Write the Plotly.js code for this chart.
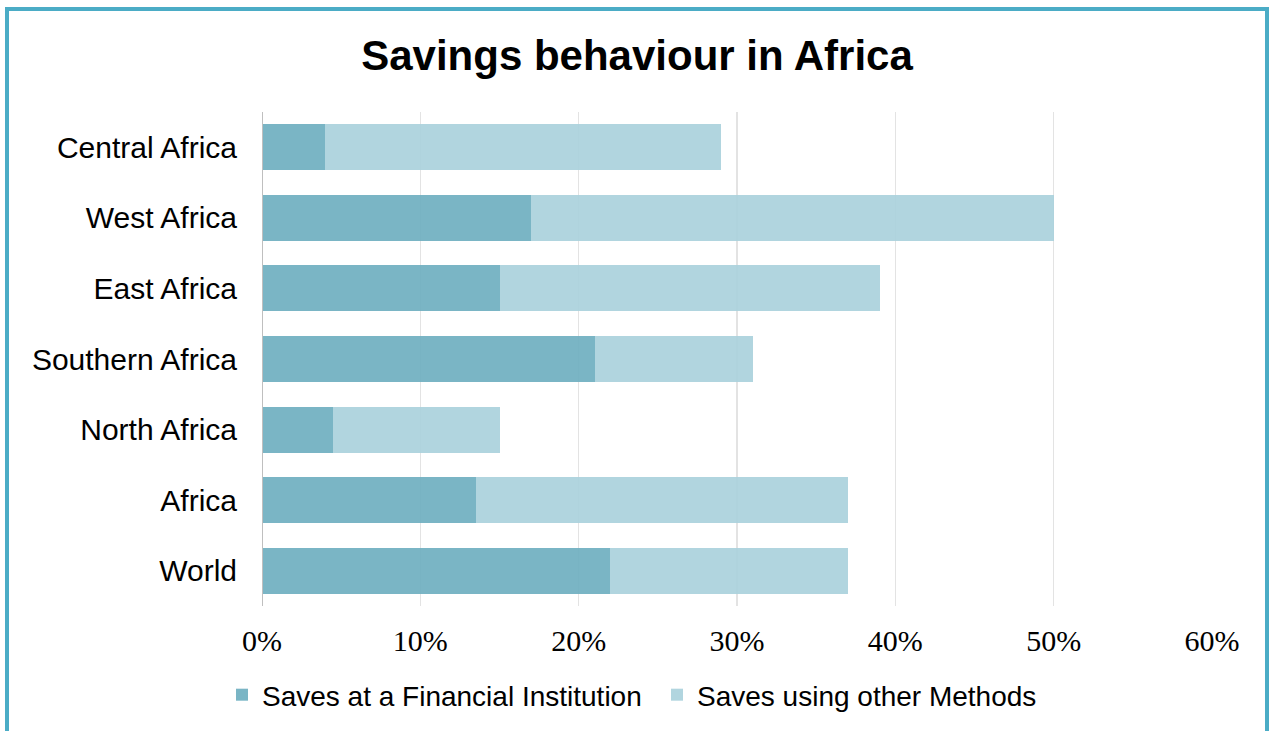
<!DOCTYPE html>
<html>
<head>
<meta charset="utf-8">
<script src="https://cdn.plot.ly/plotly-3.0.1.min.js"></script>
<style>
html,body{margin:0;padding:0;background:#fff;overflow:hidden;}
#chart{position:absolute;left:0;top:0;width:1269px;height:731px;}
#frame{position:absolute;left:5px;top:7px;width:1264px;height:760px;border:4px solid #4BACC6;box-sizing:border-box;pointer-events:none;}
</style>
</head>
<body>
<div id="chart"></div>
<div id="frame"></div>
<script>
const regions = ["Central Africa","West Africa","East Africa","Southern Africa","North Africa","Africa","World"];
const financialInstitution = [4, 17, 15, 21, 4.5, 13.5, 22];
const otherMethods = [25, 33, 24, 10, 10.5, 23.5, 15];
const seriesNames = ["Saves at a Financial Institution","Saves using other Methods"];
const xTicks = [0,10,20,30,40,50,60];
const xTickLabels = ["0%","10%","20%","30%","40%","50%","60%"];

const traces = [
  {type:'bar', orientation:'h', name:seriesNames[0], y:regions, x:financialInstitution,
   marker:{color:'rgba(107,173,191,0.9)', line:{width:0}}, hoverinfo:'x+y'},
  {type:'bar', orientation:'h', name:seriesNames[1], y:regions, x:otherMethods,
   marker:{color:'rgba(168,208,219,0.9)', line:{width:0}}, hoverinfo:'x+y'}
];

const layout = {
  width:1269, height:731,
  margin:{l:262, r:57, t:112, b:125},
  paper_bgcolor:'rgba(0,0,0,0)', plot_bgcolor:'rgba(0,0,0,0)',
  barmode:'stack', bargap:0.35,
  title:{text:'<b>Savings behaviour in Africa</b>', font:{family:'Liberation Sans, Arial, sans-serif', size:42, color:'#000'},
         x:637/1269, xref:'container', xanchor:'center', y:1-55/731, yref:'container', yanchor:'middle'},
  font:{family:'Liberation Sans, Arial, sans-serif', color:'#000'},
  xaxis:{range:[0,60], tickvals:xTicks, ticktext:xTickLabels, showgrid:true, gridcolor:'#e3e3e3', gridwidth:1.5,
         zeroline:false, showline:false, ticks:'', ticklabelstandoff:14,
         tickfont:{family:'Liberation Serif, Times New Roman, serif', size:30, color:'#000'}, fixedrange:true},
  yaxis:{autorange:'reversed', showgrid:false, zeroline:false, showline:false, ticks:'', ticklabelstandoff:24,
         tickfont:{family:'Liberation Sans, Arial, sans-serif', size:30, color:'#000'}, fixedrange:true},
  shapes:[{type:'line', xref:'x', yref:'paper', x0:0, x1:0, y0:0, y1:1, line:{color:'#bfbfbf', width:2}}],
  showlegend:true,
  legend:{orientation:'h', xref:'container', yref:'container', x:222/1269, xanchor:'left', y:1-695/731, yanchor:'middle',
          entrywidth:390, entrywidthmode:'pixels',
          font:{family:'Liberation Sans, Arial, sans-serif', size:28, color:'#000'}, traceorder:'normal', itemwidth:30}
};

Plotly.newPlot('chart', traces, layout, {displayModeBar:false, staticPlot:true});
</script>
</body>
</html>
